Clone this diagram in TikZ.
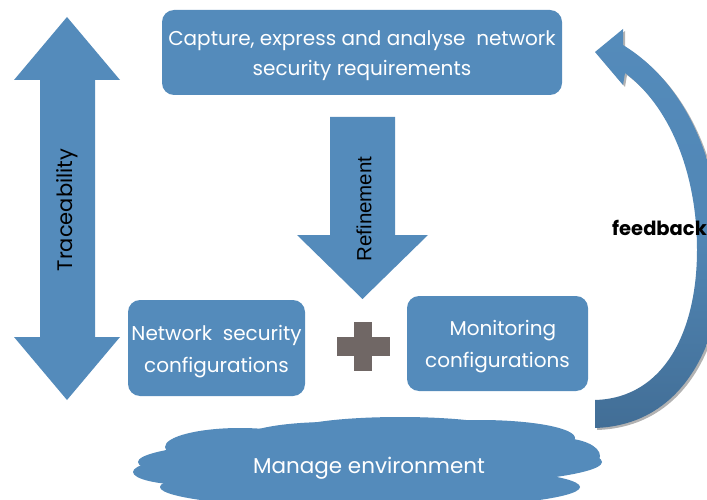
\documentclass[tikz,border=0pt]{standalone}
\usepackage{fontspec}
\setmainfont{Poppins}
\newfontfamily\arialf{Liberation Sans}
\usetikzlibrary{shapes.geometric}
\definecolor{blu}{RGB}{84,139,187}
\definecolor{dblu}{RGB}{66,110,150}
\definecolor{plusc}{RGB}{112,103,101}
\tikzset{
  box/.style={draw=none,fill=blu,rounded corners=12pt,text=white,align=center,font=\fontsize{20}{30}\selectfont},
  lbl/.style={font=\fontsize{21}{24}\selectfont,text=black},
}
\begin{document}
\begin{tikzpicture}[x=1pt,y=-1pt]
\useasboundingbox (0,0) rectangle (707,500);
% top box
\fill[blu,rounded corners=12pt] (162,10) rectangle (562,95);
\node[text=white,align=center,font=\fontsize{20}{30}\selectfont] (top) at (362,55.5) {Capture, express and analyse\ \ network\\security requirements};
% traceability double arrow
\fill[blu] (67,17) -- (120,80) -- (95,80) -- (95,337) -- (120,337) -- (67,400) -- (14,337) -- (40,337) -- (40,80) -- (14,80) -- cycle;
\node[lbl,rotate=90] (trace) at (67,210) {Traceability};
% refinement arrow
\fill[blu] (330,117) -- (395,117) -- (395,235) -- (428,235) -- (362.5,299) -- (297,235) -- (330,235) -- cycle;
\node[lbl,rotate=90,font=\arialf\fontsize{20.5}{24}\selectfont] (refine) at (364,209) {Refinement};
% lower boxes
\fill[blu,rounded corners=12pt] (128,300) rectangle (305,396);
\node[text=white,align=center,font=\fontsize{20}{32}\selectfont] (nsc) at (216.5,352) {Network\ \ security\\configurations};
\fill[blu,rounded corners=12pt] (407,296) rectangle (588,391);
\node[text=white,align=center,font=\fontsize{20}{32}\selectfont] (mon) at (497.5,347) {\ \ Monitoring\\configurations};
% plus
\fill[plusc] (354,322) rectangle (372,371);
\fill[plusc] (337,337) rectangle (390,356);
\coordinate (plus) at (363,346);
% cloud
\begin{scope}
\fill[blu] (370,462) ellipse (232 and 25);
\fill[blu] (240,447) ellipse (75 and 19);
\fill[blu] (400,432) ellipse (110 and 15);
\fill[blu] (330,440) ellipse (90 and 18);
\fill[blu] (480,438) ellipse (95 and 18);
\fill[blu] (190,472) ellipse (57 and 13);
\fill[blu] (560,456) ellipse (40 and 18);
\fill[blu] (370,487) ellipse (210 and 22);
\end{scope}
\node[text=white,font=\fontsize{21.5}{24}\selectfont] (env) at (369,468) {Manage environment};
% feedback curved arrow
\fill[black!30,xshift=2pt,yshift=-2pt] (595,52) -- (623,29) -- (623,45) .. controls (680,80) and (718,150) .. (722,250) .. controls (725,330) and (690,425) .. (595,428) -- (595,400) .. controls (665,398) and (697,330) .. (697,250) .. controls (697,170) and (668,105) .. (625,73) -- (623,85) -- cycle;
\shade[top color=blu,bottom color=dblu,middle color=blu!85!dblu] (595,52) -- (623,29) -- (623,45) .. controls (680,80) and (718,150) .. (722,250) .. controls (725,330) and (690,425) .. (595,428) -- (595,400) .. controls (665,398) and (697,330) .. (697,250) .. controls (697,170) and (668,105) .. (625,73) -- (623,85) -- cycle;
\node[font=\bfseries\fontsize{19.5}{22}\selectfont,anchor=west,inner sep=0pt] (fb) at (612,228) {feedback};
\end{tikzpicture}
\end{document}
